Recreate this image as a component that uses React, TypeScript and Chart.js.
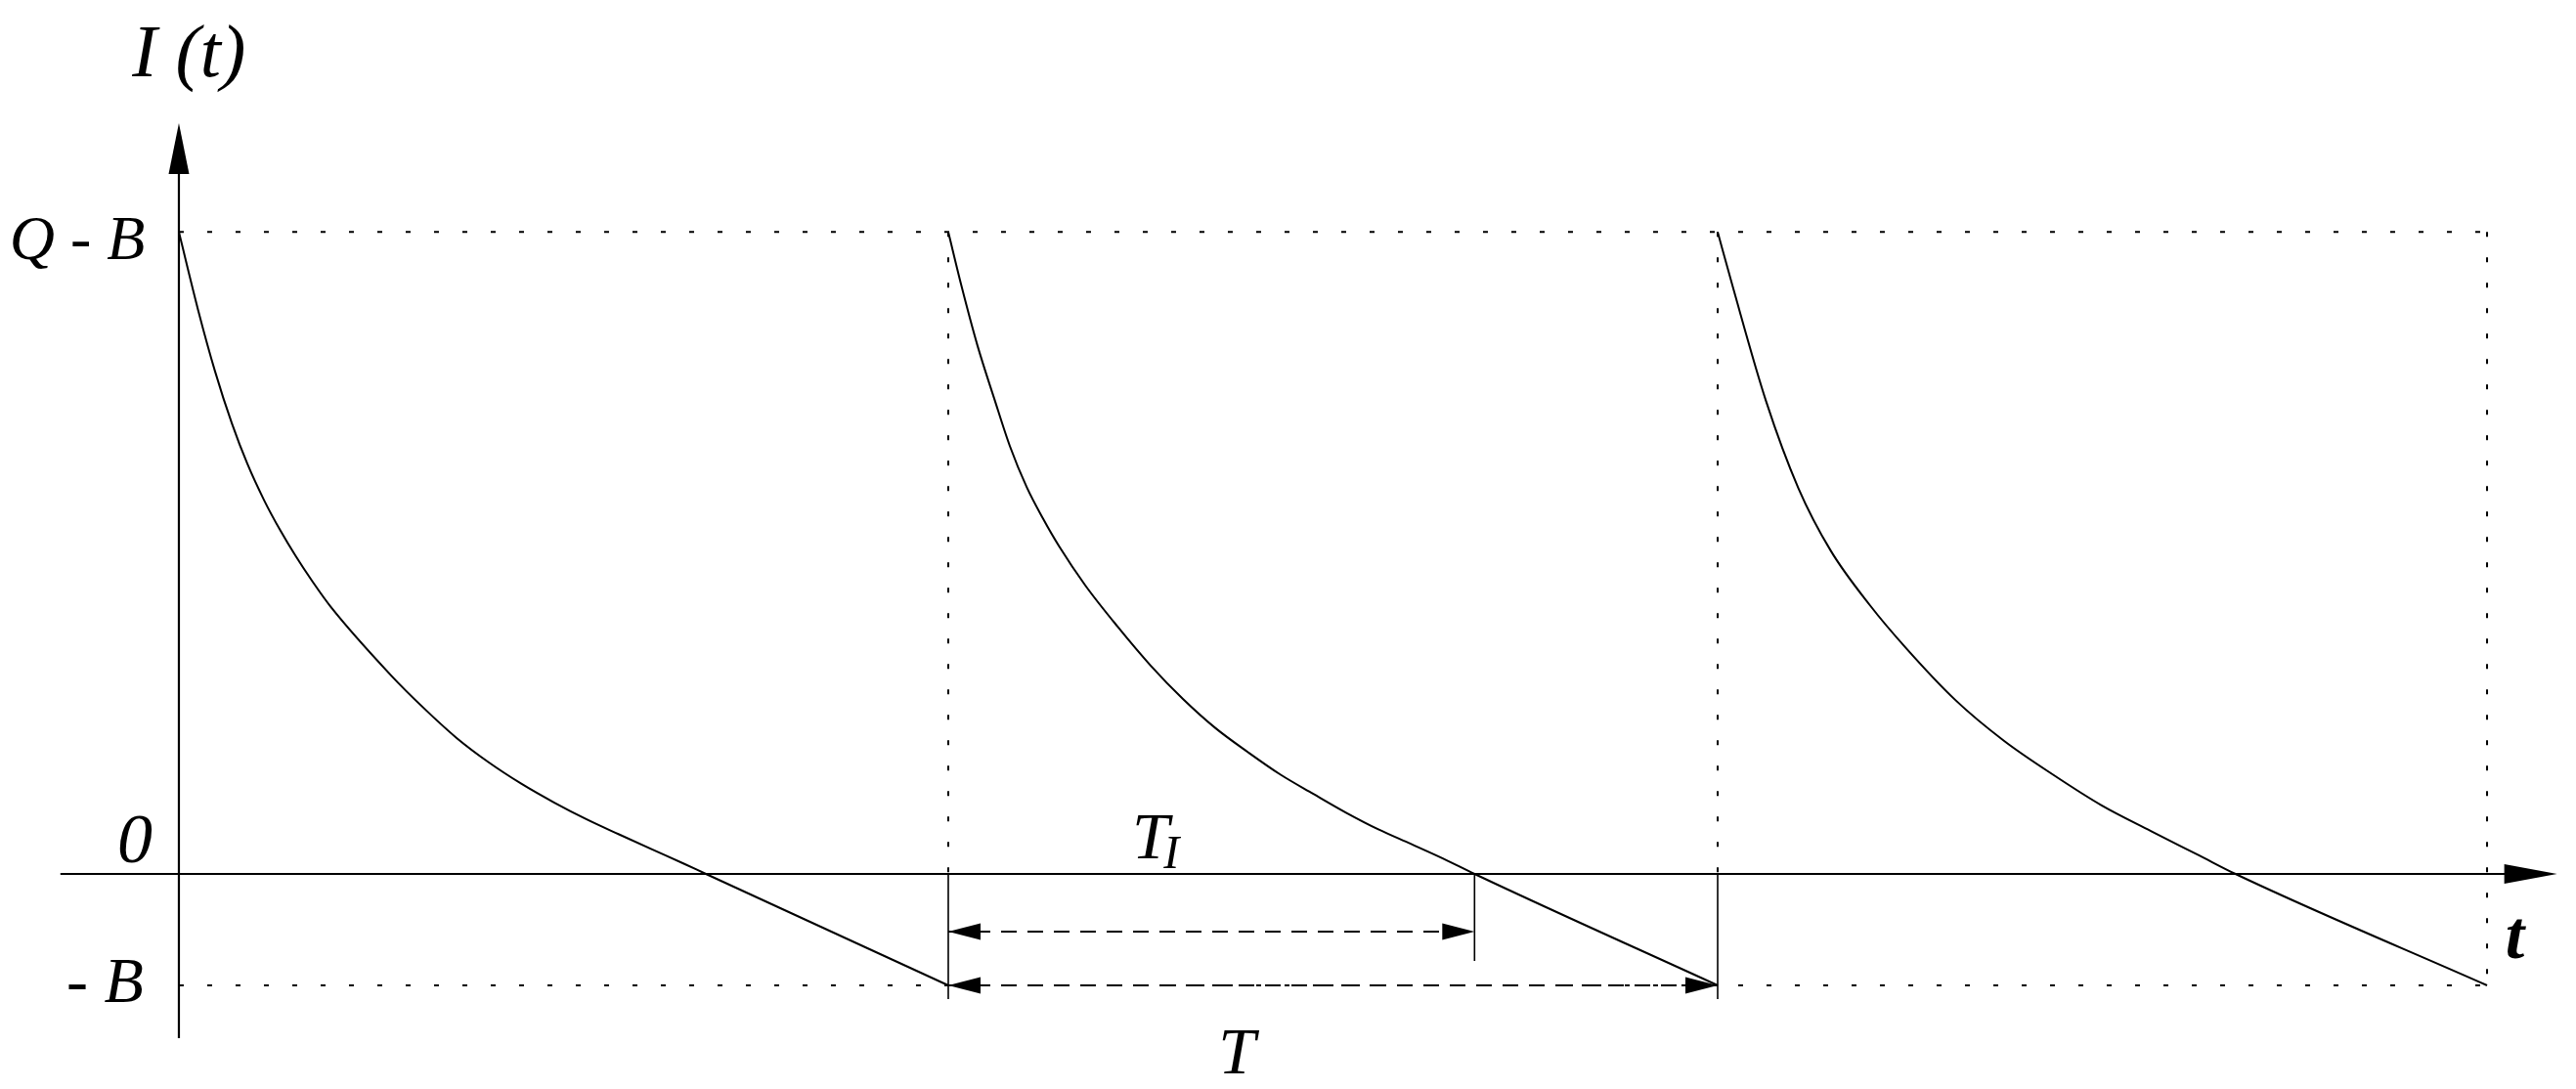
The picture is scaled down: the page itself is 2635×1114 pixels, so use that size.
import React, { useEffect, useRef } from "react";
import { Chart, registerables } from "chart.js";

Chart.register(...registerables);

const W = 2635;
const H = 1114;

// Units: time in cycles (T = 1), inventory in units of B (B = 1)
const QB_LEVEL = 5.76; // Q - B
const NEG_B_LEVEL = -1; // -B
const cycleStarts = [0, 1, 2];
const cycleEnd = 3;
const tiZero = 1.684; // zero crossing of second cycle (end of T_I)

const cycle1X = [0, 0.025, 0.047, 0.069, 0.089, 0.111, 0.132, 0.152, 0.174, 0.197, 0.276, 0.318, 0.361, 0.403, 0.445, 0.488, 0.53, 0.572, 0.615, 0.657, 0.685, 1.0];
const cycle1Y = [5.76, 5.06, 4.51, 4.04, 3.68, 3.35, 3.08, 2.85, 2.62, 2.4, 1.78, 1.49, 1.22, 1.0, 0.81, 0.64, 0.49, 0.355, 0.22, 0.09, 0, -1];

const cycle2X = [1.0, 1.017, 1.038, 1.06, 1.08, 1.102, 1.123, 1.144, 1.178, 1.22, 1.263, 1.305, 1.347, 1.39, 1.432, 1.474, 1.517, 1.559, 1.601, 1.644, 1.684, 2.0];
const cycle2Y = [5.76, 5.28, 4.74, 4.26, 3.84, 3.47, 3.19, 2.94, 2.59, 2.22, 1.87, 1.57, 1.31, 1.09, 0.89, 0.72, 0.55, 0.4, 0.27, 0.135, 0, -1];

const cycle3X = [2.0, 2.02, 2.063, 2.105, 2.147, 2.198, 2.245, 2.309, 2.372, 2.436, 2.499, 2.563, 2.626, 2.673, 3.0];
const cycle3Y = [5.76, 5.26, 4.24, 3.46, 2.9, 2.41, 2.025, 1.56, 1.195, 0.89, 0.615, 0.385, 0.165, 0, -1];

// Axis extents
const xAxisFrom = -0.154;
const xAxisTip = 3.091;
const yAxisFrom = -1.474;
const yAxisTip = 6.737;
const tickBottom = -1.123; // solid drop lines under cycle starts
const tiTickBottom = -0.781; // drop line under T_I end
const tiArrowLevel = -0.518;

// Text labels
const labelTexts = ["I (t)", "Q - B", "0", "- B", "T", "I", "T", "t"];
const labelX = [0.013, -0.044, -0.057, -0.046, 1.263, 1.29, 1.375, 3.036];
const labelY = [7.158, 5.518, 0.105, -1.149, 0.14, 0.053, -1.789, -0.754];

const pts = (xs: number[], ys: number[]) => xs.map((x, i) => ({ x, y: ys[i] }));

export default function App() {
  const ref = useRef<HTMLCanvasElement | null>(null);

  useEffect(() => {
    const canvas = ref.current;
    if (!canvas) return;

    const solid = (data: any[], width = 2) => ({
      data,
      borderColor: "#000",
      borderWidth: width,
      pointRadius: 0,
      fill: false,
      tension: 0,
    });
    const dotted = (data: any[], dash: number[]) => ({
      data,
      borderColor: "#000",
      borderWidth: 2,
      pointRadius: 0,
      fill: false,
      tension: 0,
      borderDash: dash,
      borderCapStyle: "butt",
    });
    const curve = (data: any[]) => ({
      data,
      borderColor: "#000",
      borderWidth: 2,
      pointRadius: 0,
      fill: false,
      cubicInterpolationMode: "monotone",
    });

    const datasets: any[] = [];
    // horizontal dotted levels
    datasets.push(dotted([{ x: 0, y: QB_LEVEL }, { x: cycleEnd, y: QB_LEVEL }], [5, 24]));
    datasets.push(dotted([{ x: 0, y: NEG_B_LEVEL }, { x: cycleEnd, y: NEG_B_LEVEL }], [5, 24]));
    // vertical dotted lines at cycle boundaries
    cycleStarts.slice(1).forEach((c) => {
      datasets.push(dotted([{ x: c, y: QB_LEVEL }, { x: c, y: 0 }], [5, 21]));
      datasets.push(solid([{ x: c, y: 0 }, { x: c, y: tickBottom }], 1.6));
    });
    datasets.push(dotted([{ x: cycleEnd, y: QB_LEVEL }, { x: cycleEnd, y: NEG_B_LEVEL }], [5, 21]));
    datasets.push(solid([{ x: tiZero, y: 0 }, { x: tiZero, y: tiTickBottom }], 1.6));
    // dimension lines
    datasets.push(dotted([{ x: 1, y: tiArrowLevel }, { x: tiZero, y: tiArrowLevel }], [16, 11]));
    datasets.push(dotted([{ x: 1, y: NEG_B_LEVEL }, { x: 2, y: NEG_B_LEVEL }], [16, 11]));
    // axes
    datasets.push(solid([{ x: xAxisFrom, y: 0 }, { x: xAxisTip - 0.04, y: 0 }], 2.2));
    datasets.push(solid([{ x: 0, y: yAxisFrom }, { x: 0, y: yAxisTip - 0.3 }], 2.2));
    // inventory curves
    datasets.push(curve(pts(cycle1X, cycle1Y)));
    datasets.push(curve(pts(cycle2X, cycle2Y)));
    datasets.push(curve(pts(cycle3X, cycle3Y)));

    const arrows = [
      { x: 0, y: yAxisTip, dir: "up", len: 52, half: 10.5 },
      { x: xAxisTip, y: 0, dir: "right", len: 54, half: 10 },
      { x: 1, y: tiArrowLevel, dir: "left", len: 33, half: 8.5 },
      { x: tiZero, y: tiArrowLevel, dir: "right", len: 33, half: 8.5 },
      { x: 1, y: NEG_B_LEVEL, dir: "left", len: 33, half: 8.5 },
      { x: 2, y: NEG_B_LEVEL, dir: "right", len: 33, half: 8.5 },
    ];

    const fonts = [
      'italic 76px "Liberation Serif"',
      'italic 64px "Liberation Serif"',
      'italic 72px "Liberation Serif"',
      'italic 66px "Liberation Serif"',
      'italic 68px "Liberation Serif"',
      'italic 48px "Liberation Serif"',
      'italic 68px "Liberation Serif"',
      'italic bold 70px "Liberation Serif"',
    ];
    const aligns: CanvasTextAlign[] = ["center", "right", "center", "right", "center", "center", "center", "center"];

    const decor = {
      id: "decor",
      afterDatasetsDraw(chart: any) {
        const ctx = chart.ctx;
        const xs = chart.scales.x;
        const ys = chart.scales.y;
        ctx.save();
        ctx.fillStyle = "#000";
        arrows.forEach((a) => {
          const px = xs.getPixelForValue(a.x);
          const py = ys.getPixelForValue(a.y);
          ctx.beginPath();
          if (a.dir === "up") {
            ctx.moveTo(px, py);
            ctx.lineTo(px - a.half, py + a.len);
            ctx.lineTo(px + a.half, py + a.len);
          } else if (a.dir === "right") {
            ctx.moveTo(px, py);
            ctx.lineTo(px - a.len, py - a.half);
            ctx.lineTo(px - a.len, py + a.half);
          } else {
            ctx.moveTo(px, py);
            ctx.lineTo(px + a.len, py - a.half);
            ctx.lineTo(px + a.len, py + a.half);
          }
          ctx.closePath();
          ctx.fill();
        });
        ctx.textBaseline = "alphabetic";
        labelTexts.forEach((t, i) => {
          ctx.font = fonts[i];
          ctx.textAlign = aligns[i];
          ctx.fillText(t, xs.getPixelForValue(labelX[i]), ys.getPixelForValue(labelY[i]));
        });
        ctx.restore();
      },
    };

    const chart = new Chart(canvas, {
      type: "line",
      data: { datasets },
      options: {
        animation: false,
        responsive: false,
        devicePixelRatio: 1,
        events: [],
        layout: { padding: 0 },
        plugins: { legend: { display: false }, tooltip: { enabled: false }, title: { display: false } },
        scales: {
          x: { type: "linear", display: false, min: -0.2325, max: 3.1156 },
          y: { type: "linear", display: false, min: -1.93, max: 7.842 },
        },
      },
      plugins: [decor],
    } as any);

    return () => chart.destroy();
  }, []);

  return (
    <div style={{ position: "fixed", left: 0, top: 0, width: W, height: H, background: "#fff" }}>
      <canvas ref={ref} width={W} height={H} style={{ display: "block", width: W, height: H }} />
    </div>
  );
}
